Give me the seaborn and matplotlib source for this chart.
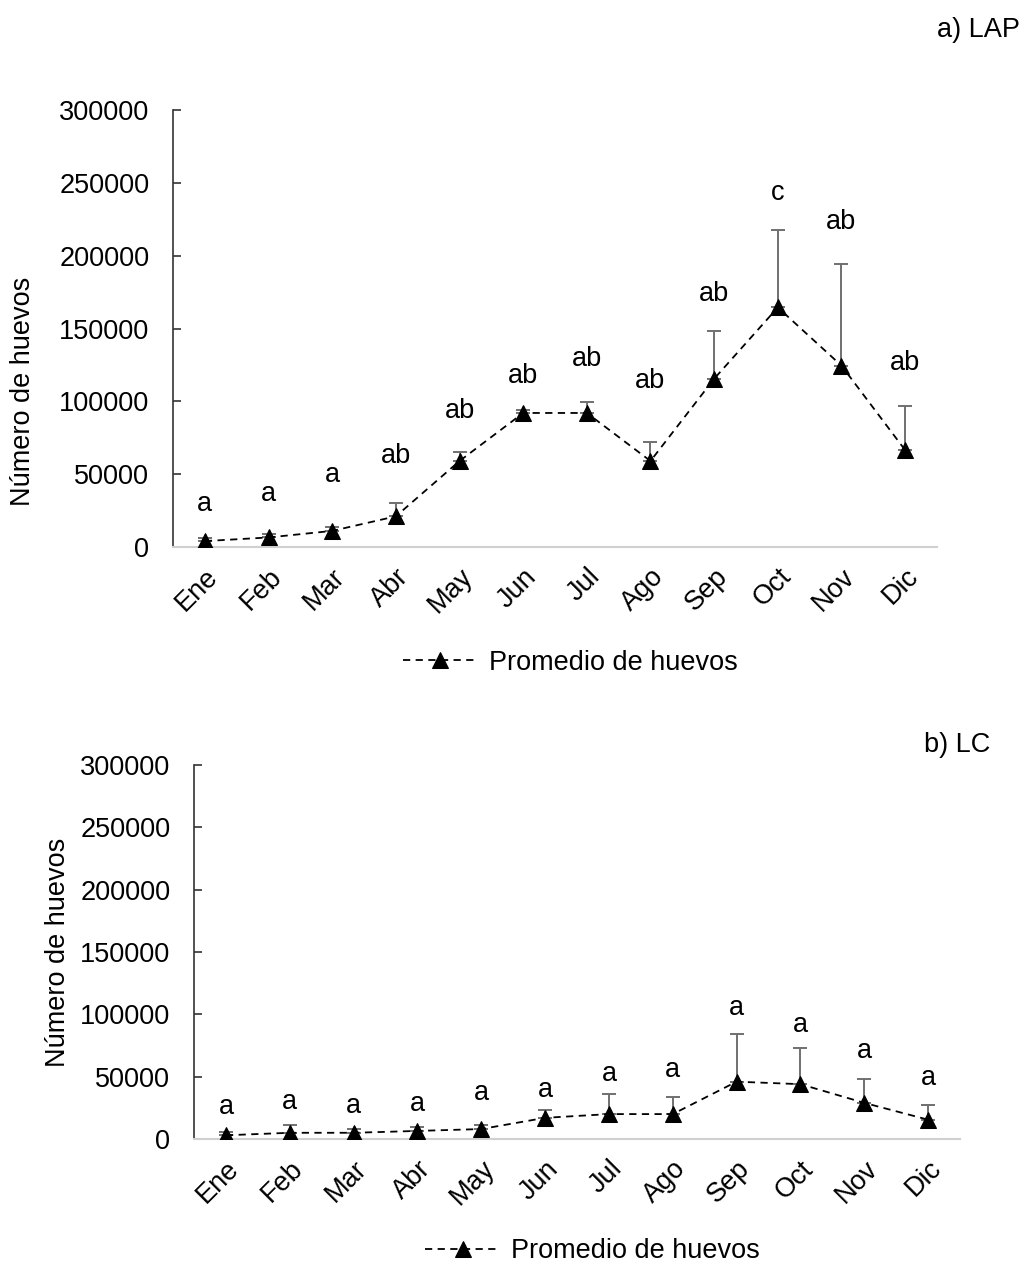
import numpy as np
import pandas as pd
import matplotlib
matplotlib.use("Agg")
import matplotlib.pyplot as plt
import seaborn as sns

months = ["Ene", "Feb", "Mar", "Abr", "May", "Jun", "Jul", "Ago", "Sep", "Oct", "Nov", "Dic"]

lap_mean = [4000, 6500, 11000, 21000, 59000, 92000, 92000, 59000, 115500, 164500, 124500, 66500]
lap_err_top = [6000, 9000, 14000, 30500, 65000, 94000, 99300, 72400, 148000, 218000, 194000, 96500]
lap_letters = ["a", "a", "a", "ab", "ab", "ab", "ab", "ab", "ab", "c", "ab", "ab"]
lap_letter_y = [29600, 36500, 49500, 62600, 93600, 117600, 129300, 114200, 173400, 242900, 222900, 126600]

lc_mean = [3000, 5000, 5000, 6500, 8000, 17000, 20000, 20000, 46000, 44000, 29000, 15500]
lc_err_top = [6000, 11000, 8000, 10000, 11000, 23500, 36200, 33600, 84000, 73400, 48200, 27500]
lc_letters = ["a"] * 12
lc_letter_y = [26000, 30000, 26500, 28000, 37000, 39000, 51800, 55000, 105000, 91100, 70700, 48800]

yticks = [0, 50000, 100000, 150000, 200000, 250000, 300000]

sns.set_theme(style="white")
plt.rcParams['font.family'] = ['Liberation Sans', 'DejaVu Sans']
plt.rcParams['text.color'] = 'black'
plt.rcParams['axes.labelcolor'] = 'black'
plt.rcParams['xtick.color'] = 'black'
plt.rcParams['ytick.color'] = 'black'

fig = plt.figure(figsize=(10.24, 12.66), dpi=100)
ax1 = fig.add_axes([0.169, 0.568, 0.746, 0.345])
ax2 = fig.add_axes([0.1895, 0.1003, 0.748, 0.2954])

FS = 19.5


def draw(ax, mean, errtop, letters, letter_y, title, title_xy, legend_y, ylab_xy):
    x = np.arange(len(months))
    df = pd.DataFrame({"x": x, "y": mean})
    mean_a = np.array(mean)
    upper = np.array(errtop) - mean_a
    ax.errorbar(x, mean_a, yerr=[np.zeros_like(upper), upper], fmt="none",
                ecolor="#707070", elinewidth=1.4, capsize=5, capthick=1.4, zorder=2)
    sns.lineplot(data=df, x="x", y="y", ax=ax, color="black", marker="^",
                 markersize=12, linestyle=(0, (4, 3)), linewidth=1.3,
                 markeredgecolor="black", label="Promedio de huevos", zorder=3)
    for xi, lt, ly in zip(x, letters, letter_y):
        ax.text(xi, ly, lt, ha="center", va="center", fontsize=FS, color="black")
    ax.set_xlim(-0.5, 11.5)
    ax.set_ylim(0, 300000)
    ax.set_yticks(yticks)
    ax.set_yticklabels([str(v) for v in yticks], fontsize=FS)
    ax.set_xticks(x)
    ax.set_xticklabels(months, rotation=45, ha="right", rotation_mode="anchor", fontsize=FS)
    ax.tick_params(axis="y", direction="in", length=6, width=1.2, color="#333333", pad=17, left=True)
    ax.tick_params(axis="x", length=0, pad=12)
    ax.set_xlabel("")
    ax.set_ylabel("Número de huevos", fontsize=FS)
    ax.yaxis.set_label_coords(ylab_xy[0], ylab_xy[1])
    for s in ["top", "right"]:
        ax.spines[s].set_visible(False)
    ax.spines["left"].set_color("#333333")
    ax.spines["left"].set_linewidth(1.2)
    ax.spines["bottom"].set_color("#d0d0d0")
    ax.spines["bottom"].set_linewidth(1.5)
    ax.legend(loc="upper center", bbox_to_anchor=(0.52, legend_y), frameon=False,
              fontsize=FS, handlelength=2.8, handletextpad=0.4, numpoints=1)
    fig.text(title_xy[0], title_xy[1], title, ha="right", va="center", fontsize=FS)


draw(ax1, lap_mean, lap_err_top, lap_letters, lap_letter_y, "a) LAP",
     (1020 / 1024, 1 - 30 / 1266), -0.18, (-0.18, 0.357))
draw(ax2, lc_mean, lc_err_top, lc_letters, lc_letter_y, "b) LC",
     (990 / 1024, 1 - 745 / 1266), -0.2, (-0.161, 0.5))

fig.savefig("out.png", dpi=100)
